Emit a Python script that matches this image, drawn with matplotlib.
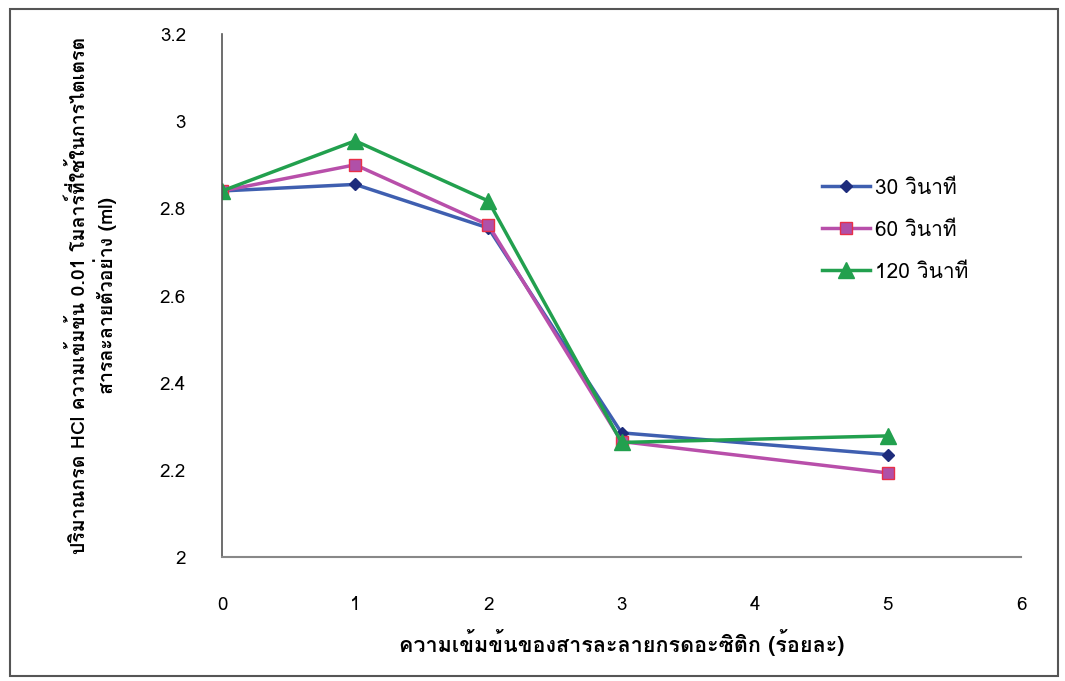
#line chart - titration volume vs acetic acid concentration
import matplotlib
matplotlib.use('Agg')
import matplotlib.pyplot as plt
from matplotlib import font_manager
from matplotlib.ft2font import FT2Font
from matplotlib.patches import Rectangle

#data
conc = [0, 1, 2, 3, 5]
vol_30 = [2.84, 2.855, 2.755, 2.285, 2.235]
vol_60 = [2.84, 2.90, 2.762, 2.265, 2.193]
vol_120 = [2.84, 2.955, 2.817, 2.263, 2.278]
series_names = ['30 วินาที', '60 วินาที', '120 วินาที']

x_label = 'ความเข้มข้นของสารละลายกรดอะซิติก (ร้อยละ)'
y_label = 'ปริมาณกรด HCl ความเข้มข้น 0.01 โมลาร์ที่ใช้ในการไตเตรต\nสารละลายตัวอย่าง (ml)'

#find an installed font that has thai letters
thai_fonts = []
for f in font_manager.fontManager.ttflist:
    try:
        if 0x0E01 in FT2Font(f.fname).get_charmap():
            if f.name not in thai_fonts:
                thai_fonts.append(f.name)
    except Exception:
        pass
families = thai_fonts + ['Liberation Sans', 'DejaVu Sans']
plt.rcParams['font.family'] = families

#figure and axis
fig = plt.figure(figsize=(10.65, 6.81), dpi=100)
ax = fig.add_axes([0.2085, 0.182, 0.7502, 0.768])

ax.plot(conc, vol_30, color='#3F5FB0', linewidth=2.5, marker='D', markersize=6,
        markerfacecolor='#1E2C7C', markeredgecolor='#1E2C7C', label=series_names[0])
ax.plot(conc, vol_60, color='#B84FAA', linewidth=2.5, marker='s', markersize=8,
        markerfacecolor='#B050A8', markeredgecolor='#E83048', label=series_names[1])
ax.plot(conc, vol_120, color='#22A04E', linewidth=2.5, marker='^', markersize=11,
        markerfacecolor='#22A04E', markeredgecolor='#22A04E', label=series_names[2])

ax.set_xlim(0, 6)
ax.set_ylim(2, 3.2)
ax.set_xticks(range(0, 7))
ax.set_yticks([2, 2.2, 2.4, 2.6, 2.8, 3, 3.2])
ax.set_yticklabels(['2', '2.2', '2.4', '2.6', '2.8', '3', '3.2'])
ax.tick_params(axis='both', length=0, labelsize=13.5)
ax.tick_params(axis='x', pad=28)
ax.tick_params(axis='y', pad=26)

ax.spines['top'].set_visible(False)
ax.spines['right'].set_visible(False)
ax.spines['left'].set_color('#555555')
ax.spines['bottom'].set_color('#888888')
ax.spines['left'].set_linewidth(1.2)
ax.spines['bottom'].set_linewidth(1.5)

ax.set_xlabel(x_label, fontsize=15.5, fontweight='bold', labelpad=11)
ax.set_ylabel(y_label, fontsize=14, fontweight='bold', labelpad=31)

ax.legend(loc='center left', bbox_to_anchor=(0.741, 0.625), frameon=False,
          fontsize=15, handlelength=2.3, labelspacing=1.1, handletextpad=0.2,
          borderaxespad=0)

#outer frame
fig.patches.append(Rectangle((0.009, 0.007), 0.984, 0.98, transform=fig.transFigure,
                             fill=False, edgecolor='#555555', linewidth=1.5))

fig.savefig('out.png', dpi=100)
